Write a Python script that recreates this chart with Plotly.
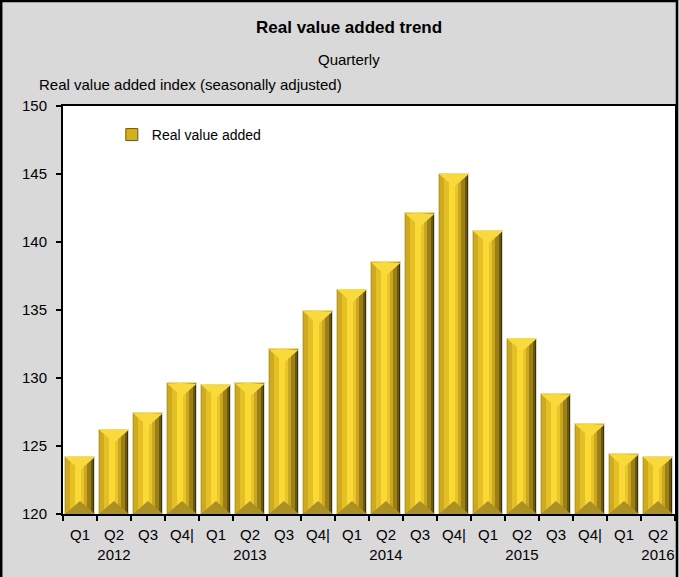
import plotly.graph_objects as go

# ---- data ----
quarter_labels = ["Q1", "Q2<br>2012", "Q3", "Q4|",
                  "Q1", "Q2<br>2013", "Q3", "Q4|",
                  "Q1", "Q2<br>2014", "Q3", "Q4|",
                  "Q1", "Q2<br>2015", "Q3", "Q4|",
                  "Q1", "Q2<br>2016"]
real_value_added = [124.2, 126.2, 127.4, 129.6,
                    129.5, 129.6, 132.1, 134.9,
                    136.5, 138.5, 142.1, 145.0,
                    140.8, 132.9, 128.8, 126.6,
                    124.4, 124.2]
y_ticks = [120, 125, 130, 135, 140, 145, 150]

# ---- layout constants ----
W, H = 680, 577
ML, MR, MT, MB = 63, 3, 106, 63
PW, PH = W - ML - MR, H - MT - MB
YMIN, YMAX = 120, 150
FONT = "Liberation Sans Narrow, Arial Narrow, Liberation Sans, Arial, sans-serif"

x = list(range(len(real_value_added)))
HALF = 0.44  # half bar width in category units

fig = go.Figure()

# vertical gradient stripes (left -> right)
stripes = [
    (-0.44, -0.40, "#b39a30"),
    (-0.40, -0.30, "#cdaa1f"),
    (-0.30, -0.16, "#e4bf25"),
    (-0.16, 0.02, "#fbd934"),
    (0.02, 0.12, "#e9c529"),
    (0.12, 0.22, "#caa71d"),
    (0.22, 0.32, "#9c8013"),
    (0.32, 0.40, "#6b570b"),
    (0.40, 0.44, "#3e3305"),
]
for k, (a, b, c) in enumerate(stripes):
    fig.add_trace(go.Bar(
        x=x, y=real_value_added, width=b - a, offset=a,
        marker=dict(color=c, line=dict(width=0)),
        showlegend=False, hoverinfo="skip",
    ))

# bevel faces: top (light) and bottom (darker) triangles
px_per_unit = PH / (YMAX - YMIN)
d = 13 / px_per_unit
tx, ty, bx, by = [], [], [], []
for i, v in zip(x, real_value_added):
    tx += [i - HALF, i + HALF, i, i - HALF, None]
    ty += [v, v, v - d, v, None]
    bx += [i - HALF, i + HALF, i, i - HALF, None]
    by += [YMIN, YMIN, YMIN + d, YMIN, None]
fig.add_trace(go.Scatter(x=tx, y=ty, mode="lines", fill="toself",
                         fillcolor="#f9da3c", line=dict(width=0),
                         showlegend=False, hoverinfo="skip"))
fig.add_trace(go.Scatter(x=bx, y=by, mode="lines", fill="toself",
                         fillcolor="#ad9023", line=dict(width=0),
                         showlegend=False, hoverinfo="skip"))

# outline + legend entry
fig.add_trace(go.Bar(
    x=x, y=real_value_added, width=2 * HALF, name="Real value added",
    marker=dict(color="rgba(0,0,0,0)", line=dict(color="#dcd8c4", width=1)),
    showlegend=False, hoverinfo="skip",
))
fig.add_trace(go.Bar(
    x=[None], y=[None], name="Real value added",
    marker=dict(color="#d4b020", line=dict(color="#6b570b", width=1)),
    showlegend=True,
))

boundaries = [i - 0.5 for i in x] + [x[-1] + 0.5]

fig.update_layout(
    width=W, height=H,
    margin=dict(l=ML, r=MR, t=MT, b=MB),
    paper_bgcolor="#d9d9d9", plot_bgcolor="#ffffff",
    barmode="overlay", bargap=0,
    font=dict(family=FONT, size=15, color="#000000"),
    showlegend=True,
    legend=dict(x=(112 - ML) / PW, y=(MT + PH - 135) / PH, xanchor="left", yanchor="middle",
                itemwidth=30,
                bgcolor="rgba(0,0,0,0)", font=dict(size=14, family=FONT)),
    xaxis=dict(
        range=[-0.5, len(x) - 0.5],
        tickmode="array", tickvals=x, ticktext=quarter_labels,
        ticks="outside", ticklen=6, tickcolor="rgba(0,0,0,0)",
        minor=dict(tickmode="array", tickvals=boundaries, ticks="outside",
                   ticklen=5, tickcolor="#000000", tickwidth=1.5),
        showline=True, linecolor="#000000", linewidth=2, mirror=True,
        showgrid=False, zeroline=False,
        tickfont=dict(size=15, family=FONT),
    ),
    yaxis=dict(
        range=[YMIN, YMAX], tickvals=y_ticks,
        ticks="outside", ticklen=5, tickcolor="#000000", tickwidth=1.5,
        ticklabelstandoff=6,
        showline=True, linecolor="#000000", linewidth=2, mirror=True,
        showgrid=False, zeroline=False,
        tickfont=dict(size=15, family=FONT),
    ),
    annotations=[
        dict(text="<b>Real value added trend</b>", xref="paper", yref="paper",
             x=(350 - ML) / PW, y=(MT + PH - 27) / PH, xanchor="center", yanchor="middle",
             showarrow=False, font=dict(size=17, family=FONT)),
        dict(text="Quarterly", xref="paper", yref="paper",
             x=(350 - ML) / PW, y=(MT + PH - 60) / PH, xanchor="center", yanchor="middle",
             showarrow=False, font=dict(size=15, family=FONT)),
        dict(text="Real value added index (seasonally adjusted)", xref="paper", yref="paper",
             x=(37 - ML) / PW, y=(MT + PH - 85) / PH, xanchor="left", yanchor="middle",
             showarrow=False, font=dict(size=15, family=FONT)),
    ],
    shapes=[
        dict(type="rect", xref="paper", yref="paper",
             x0=(1 - ML) / PW, x1=(679 - ML) / PW,
             y0=(MT + PH - 590) / PH, y1=(MT + PH - 1) / PH,
             line=dict(color="#000000", width=2.5), fillcolor="rgba(0,0,0,0)", layer="above"),
    ],
)

fig.write_html("out.html", config={"displayModeBar": False},
               post_script="document.body.style.margin='0';document.body.style.padding='0';")
